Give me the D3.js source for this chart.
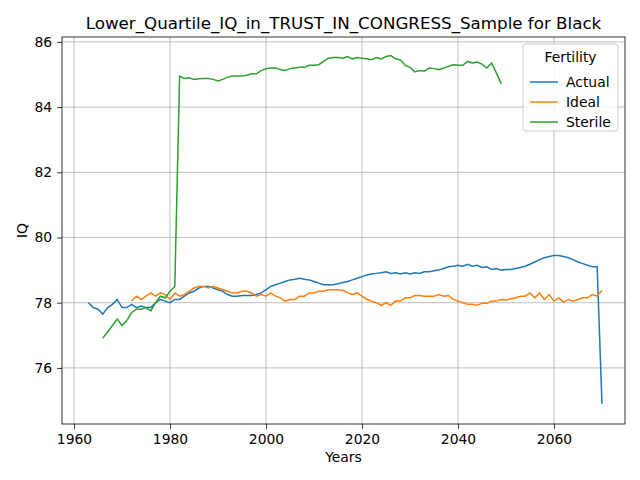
<!DOCTYPE html><html><head><meta charset="utf-8"><script src="https://cdn.jsdelivr.net/npm/d3@7"></script>
<style>body{margin:0;background:#fff}text{font-family:"DejaVu Sans",sans-serif}</style></head><body><svg id="c" width="640" height="480"></svg>
<script>
const actualStart=1963;
const actual=[78.0,77.85,77.8,77.65,77.85,77.95,78.1,77.85,77.85,77.95,77.85,77.9,77.85,77.85,78.0,78.1,78.05,78.0,78.1,78.1,78.2,78.3,78.35,78.45,78.5,78.5,78.45,78.4,78.35,78.25,78.2,78.2,78.22,78.22,78.22,78.25,78.3,78.4,78.5,78.55,78.6,78.65,78.7,78.72,78.75,78.72,78.7,78.65,78.6,78.55,78.55,78.55,78.58,78.62,78.65,78.7,78.75,78.8,78.85,78.88,78.9,78.92,78.95,78.9,78.92,78.88,78.92,78.88,78.92,78.9,78.95,78.95,78.98,79.0,79.05,79.1,79.12,79.15,79.12,79.18,79.12,79.15,79.08,79.1,79.02,79.05,79.0,79.02,79.02,79.05,79.08,79.12,79.18,79.25,79.32,79.38,79.42,79.45,79.45,79.42,79.38,79.32,79.25,79.2,79.15,79.1,79.1,74.9];
const idealStart=1972;
const ideal=[78.05,78.2,78.1,78.2,78.3,78.2,78.3,78.25,78.1,78.3,78.2,78.25,78.35,78.45,78.5,78.5,78.45,78.5,78.45,78.4,78.35,78.3,78.3,78.35,78.35,78.3,78.2,78.25,78.2,78.3,78.2,78.15,78.05,78.1,78.1,78.2,78.2,78.3,78.3,78.35,78.35,78.4,78.4,78.4,78.38,78.3,78.25,78.3,78.2,78.1,78.05,78.0,77.92,78.0,77.92,78.05,78.05,78.15,78.15,78.22,78.22,78.2,78.2,78.2,78.25,78.2,78.22,78.1,78.05,78.0,77.95,77.95,77.92,77.98,77.98,78.05,78.05,78.1,78.08,78.12,78.15,78.2,78.2,78.3,78.15,78.3,78.1,78.25,78.05,78.15,78.02,78.1,78.05,78.1,78.15,78.15,78.25,78.2,78.38];
const sterileStart=1966;
const sterile=[76.92,77.1,77.3,77.5,77.3,77.45,77.7,77.8,77.8,77.85,77.75,78.0,78.2,78.15,78.35,78.5,84.95,84.88,84.9,84.85,84.87,84.88,84.88,84.85,84.8,84.85,84.92,84.95,84.95,84.95,84.98,85.02,85.02,85.12,85.18,85.2,85.2,85.15,85.12,85.18,85.2,85.22,85.22,85.28,85.28,85.3,85.4,85.5,85.52,85.52,85.5,85.55,85.48,85.52,85.5,85.48,85.45,85.52,85.48,85.55,85.58,85.48,85.45,85.28,85.22,85.08,85.12,85.1,85.2,85.18,85.15,85.2,85.25,85.3,85.28,85.28,85.4,85.35,85.38,85.32,85.2,85.35,85.05,84.72];
const xTicks=[1960,1980,2000,2020,2040,2060];
const yTicks=[76,78,80,82,84,86];
const series=[{name:"Actual",start:actualStart,v:actual,c:"#1f77b4"},{name:"Ideal",start:idealStart,v:ideal,c:"#ff7f0e"},{name:"Sterile",start:sterileStart,v:sterile,c:"#2ca02c"}];
const L=62,R=625,T=37,B=424;
const svg=d3.select("#c");
const x=d3.scaleLinear().domain([1957.5,2074.8]).range([L,R]);
const y=d3.scaleLinear().domain([74.28,86.15]).range([B,T]);
const g=svg.append("g");
g.selectAll(".gx").data(xTicks).join("line").attr("x1",d=>x(d)).attr("x2",d=>x(d)).attr("y1",T).attr("y2",B).attr("stroke","#b0b0b0").attr("stroke-width",0.8);
g.selectAll(".gy").data(yTicks).join("line").attr("y1",d=>y(d)).attr("y2",d=>y(d)).attr("x1",L).attr("x2",R).attr("stroke","#b0b0b0").attr("stroke-width",0.8);
const line=d3.line().x(d=>x(d[0])).y(d=>y(d[1]));
series.forEach(s=>{svg.append("path").datum(s.v.map((v,i)=>[s.start+i,v])).attr("d",line).attr("fill","none").attr("stroke",s.c).attr("stroke-width",1.5);});
const xa=svg.append("g").attr("transform",`translate(0,${B})`).call(d3.axisBottom(x).tickValues(xTicks).tickFormat(d3.format("d")).tickSize(4.9).tickPadding(4.9));
const ya=svg.append("g").attr("transform",`translate(${L},0)`).call(d3.axisLeft(y).tickValues(yTicks).tickSize(4.9).tickPadding(4.9));
[xa,ya].forEach(a=>{a.select(".domain").remove();a.selectAll("text").attr("font-size",13.9).attr("fill","#000");a.selectAll("line").attr("stroke","#000").attr("stroke-width",0.8);});
svg.append("rect").attr("x",L).attr("y",T).attr("width",R-L).attr("height",B-T).attr("fill","none").attr("stroke","#000").attr("stroke-width",0.8);
svg.append("text").attr("x",(L+R)/2).attr("y",29).attr("text-anchor","middle").attr("font-size",16.7).text("Lower_Quartile_IQ_in_TRUST_IN_CONGRESS_Sample for Black");
svg.append("text").attr("x",(L+R)/2).attr("y",462).attr("text-anchor","middle").attr("font-size",13.9).text("Years");
svg.append("text").attr("transform",`translate(27,${(T+B)/2}) rotate(-90)`).attr("text-anchor","middle").attr("font-size",13.9).text("IQ");
const lg=svg.append("g").attr("transform","translate(523,44)");
lg.append("rect").attr("width",95).attr("height",87).attr("rx",3).attr("fill","#fff").attr("fill-opacity",0.8).attr("stroke","#ccc");
lg.append("text").attr("x",47.5).attr("y",18).attr("text-anchor","middle").attr("font-size",13.9).text("Fertility");
series.forEach((s,i)=>{const yy=38+i*20;lg.append("line").attr("x1",7).attr("x2",35).attr("y1",yy).attr("y2",yy).attr("stroke",s.c).attr("stroke-width",1.5);lg.append("text").attr("x",43).attr("y",yy+5).attr("font-size",13.9).text(s.name);});
</script></body></html>
